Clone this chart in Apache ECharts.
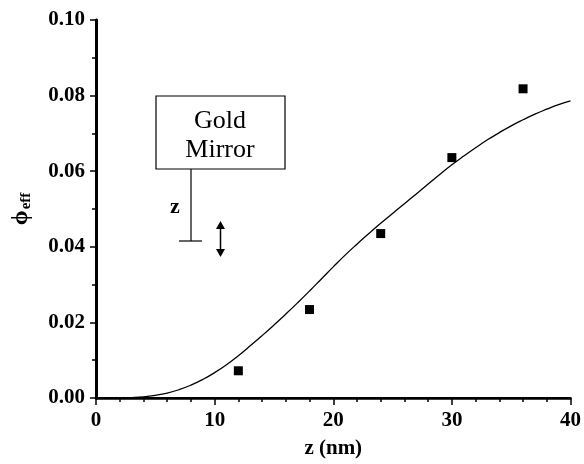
<!DOCTYPE html>
<html><head><meta charset="utf-8">
<script src="https://cdn.jsdelivr.net/npm/echarts@6/dist/echarts.min.js"></script>
<style>html,body{margin:0;padding:0;background:#fff}#c{width:584px;height:464px}</style>
</head><body><div id="c"></div>
<script>
// measured data points
const pointZ = [12, 18, 24, 30, 36];
const pointPhi = [0.0072, 0.0234, 0.0435, 0.0636, 0.0818];
// theoretical curve
const curveZ = [0, 1, 2, 3, 4, 5, 6, 7, 8, 9, 10, 11, 12, 13, 14, 15, 16, 17, 18, 19, 20, 21, 22, 23, 24, 25, 26, 27, 28, 29, 30, 31, 32, 33, 34, 35, 36, 37, 38, 39, 40];
const curvePhi = [0, 0, 0, 0.0001, 0.0003, 0.0007, 0.0013, 0.0022, 0.0034, 0.0049, 0.0067, 0.0088, 0.0112, 0.0138, 0.0165, 0.0193, 0.0222, 0.0252, 0.0283, 0.0315, 0.0347, 0.0378, 0.0407, 0.0435, 0.0462, 0.0488, 0.0514, 0.0540, 0.0566, 0.0592, 0.0617, 0.0640, 0.0662, 0.0683, 0.0702, 0.0720, 0.0736, 0.0751, 0.0764, 0.0776, 0.0786];
const xTicks = [0, 10, 20, 30, 40];
const yTicks = [0.00, 0.02, 0.04, 0.06, 0.08, 0.10];
const xTitle = 'z (nm)';
const insetTop = 'Gold';
const insetBottom = 'Mirror';
const insetZ = 'z';

const font = 'Liberation Serif';
const chart = echarts.init(document.getElementById('c'));
const axisCommon = {
  axisLine: {show: true, lineStyle: {color: '#000', width: 2.5}},
  splitLine: {show: false}
};
chart.setOption({
  animation: false,
  backgroundColor: '#fff',
  grid: {left: 96, right: 13, top: 20, bottom: 62},
  xAxis: [{
    type: 'value', min: xTicks[0], max: xTicks[xTicks.length - 1], interval: 10,
    ...axisCommon,
    axisTick: {show: true, inside: false, length: 7, lineStyle: {color: '#000', width: 1.5}},
    minorTick: {show: true, splitNumber: 5, length: 4, lineStyle: {color: '#000', width: 1.5}},
    axisLabel: {color: '#000', fontFamily: font, fontWeight: 'bold', fontSize: 21, margin: 12,
      formatter: v => xTicks.includes(v) ? String(v) : ''},
    name: xTitle, nameLocation: 'middle', nameGap: 40,
    nameTextStyle: {color: '#000', fontFamily: font, fontWeight: 'bold', fontSize: 21}
  }, {
    type: 'value', position: 'top', min: 0, max: 40,
    ...axisCommon,
    axisLine: {show: true, lineStyle: {color: '#000', width: 2}},
    axisTick: {show: false}, axisLabel: {show: false}
  }],
  yAxis: [{
    type: 'value', min: yTicks[0], max: yTicks[yTicks.length - 1], interval: 0.02,
    ...axisCommon,
    axisTick: {show: true, inside: false, length: 6, lineStyle: {color: '#000', width: 1.5}},
    minorTick: {show: true, splitNumber: 2, length: 4, lineStyle: {color: '#000', width: 1.5}},
    axisLabel: {color: '#000', fontFamily: font, fontWeight: 'bold', fontSize: 21, margin: 11,
      formatter: v => v.toFixed(2)},
    name: '{a|ϕ}{b|eff}', nameLocation: 'middle', nameGap: 62,
    nameTextStyle: {color: '#000', fontFamily: font, fontWeight: 'bold',
      rich: {
        a: {fontFamily: font, fontWeight: 'bold', fontSize: 24, color: '#000'},
        b: {fontFamily: font, fontWeight: 'bold', fontSize: 15, color: '#000', padding: [11, 0, 0, 1]}
      }}
  }, {
    type: 'value', position: 'right', min: 0, max: 0.1,
    ...axisCommon,
    axisLine: {show: true, lineStyle: {color: '#000', width: 3}},
    axisTick: {show: false}, axisLabel: {show: false}
  }],
  series: [{
    type: 'line', smooth: 0.5, showSymbol: false,
    data: curveZ.map((z, i) => [z, curvePhi[i]]),
    lineStyle: {color: '#000', width: 1.3}, z: 2
  }, {
    type: 'scatter', symbol: 'rect', symbolSize: 9,
    itemStyle: {color: '#000', opacity: 1},
    data: pointZ.map((z, i) => [z, pointPhi[i]]), z: 3
  }],
  graphic: [
    {type: 'rect', shape: {x: 156, y: 96, width: 129, height: 73},
      style: {fill: '#fff', stroke: '#000', lineWidth: 1.2}},
    {type: 'text', x: 220, y: 121, style: {text: insetTop, fontFamily: font, fontSize: 26,
      fill: '#000', align: 'center', verticalAlign: 'middle'}},
    {type: 'text', x: 220, y: 150, style: {text: insetBottom, fontFamily: font, fontSize: 26,
      fill: '#000', align: 'center', verticalAlign: 'middle'}},
    {type: 'line', shape: {x1: 191, y1: 169, x2: 191, y2: 241}, style: {stroke: '#000', lineWidth: 1.2}},
    {type: 'line', shape: {x1: 179, y1: 241, x2: 202, y2: 241}, style: {stroke: '#000', lineWidth: 1.2}},
    {type: 'text', x: 175, y: 207, style: {text: insetZ, fontFamily: font, fontWeight: 'bold', fontSize: 22,
      fill: '#000', align: 'center', verticalAlign: 'middle'}},
    {type: 'line', shape: {x1: 220.5, y1: 226, x2: 220.5, y2: 252}, style: {stroke: '#000', lineWidth: 1.5}},
    {type: 'polygon', shape: {points: [[220.5, 221], [216, 229], [225, 229]]}, style: {fill: '#000'}},
    {type: 'polygon', shape: {points: [[220.5, 257], [216, 249], [225, 249]]}, style: {fill: '#000'}}
  ]
});
</script></body></html>
